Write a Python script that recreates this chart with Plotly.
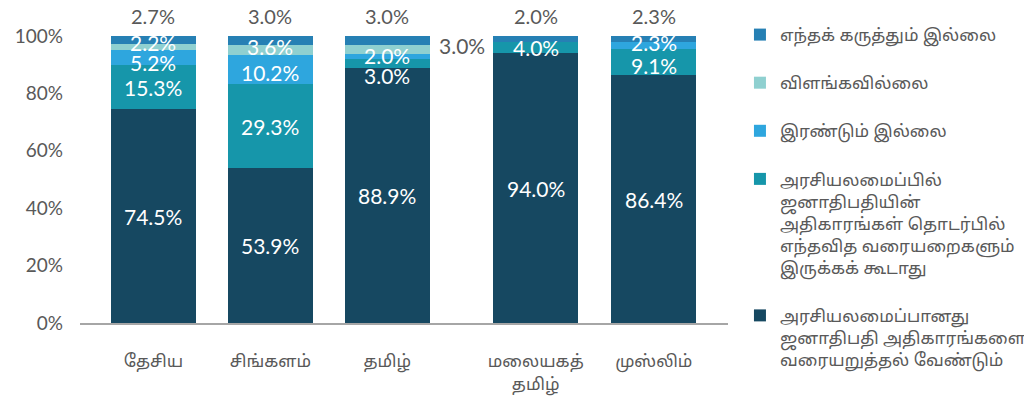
import plotly.graph_objects as go

categories = ["தேசிய", "சிங்களம்", "தமிழ்", "மலையகத்<br>தமிழ்", "முஸ்லிம்"]

series_names = [
    "அரசியலமைப்பானது<br>ஜனாதிபதி அதிகாரங்களை<br>வரையறுத்தல் வேண்டும்",
    "அரசியலமைப்பில்<br>ஜனாதிபதியின்<br>அதிகாரங்கள் தொடர்பில்<br>எந்தவித வரையறைகளும்<br>இருக்கக் கூடாது",
    "இரண்டும் இல்லை",
    "விளங்கவில்லை",
    "எந்தக் கருத்தும் இல்லை",
]

limit_powers = [74.5, 53.9, 88.9, 94.0, 86.4]
no_limits = [15.3, 29.3, 3.0, 4.0, 9.1]
neither = [5.2, 10.2, 2.0, 0.0, 2.3]
dont_understand = [2.2, 3.6, 3.0, 0.0, 0.0]
no_opinion = [2.7, 3.0, 3.0, 2.0, 2.3]

series_values = [limit_powers, no_limits, neither, dont_understand, no_opinion]
tick_vals = [0, 20, 40, 60, 80, 100]
tick_text = ["0%", "20%", "40%", "60%", "80%", "100%"]

# layout / style (not data)
x_pos = [0, 1, 2, 3.27, 4.28]
colors = ["#164861", "#1696aa", "#2ea6de", "#8fd0d0", "#2680b4"]
num_font = "Lato, 'Open Sans', sans-serif"
tamil_font = "'Noto Sans Tamil', 'Noto Sans', sans-serif"
gray = "#595959"

fig = go.Figure()
n_series = len(series_values)
for i, (name, vals) in enumerate(zip(series_names, series_values)):
    fig.add_trace(go.Bar(
        x=x_pos, y=vals, name=name, marker_color=colors[i],
        marker_line_width=0, width=0.726, legendgroup=str(i),
        legendrank=1000 + (n_series - i), hoverinfo="skip",
    ))

# label offsets (pixels) for readability, keyed (series, bar)
yshift = {(3, 0): 5, (2, 0): -5, (3, 1): 3, (2, 1): -3, (1, 2): -12,
          (1, 4): -4, (2, 4): 3, (3, 2): 4, (2, 2): 1}
xshift = {(3, 2): 75}

annotations = []
for j in range(len(categories)):
    base = 0.0
    for i in range(n_series):
        v = series_values[i][j]
        if v <= 0:
            continue
        if i == n_series - 1:
            annotations.append(dict(
                x=x_pos[j], y=100, xref="x", yref="y", text=f"{v:.1f}%",
                showarrow=False, yanchor="middle", yshift=20,
                font=dict(family=num_font, size=20, color=gray)))
        else:
            outside = (i, j) in xshift
            annotations.append(dict(
                x=x_pos[j], y=base + v / 2, xref="x", yref="y", text=f"{v:.1f}%",
                showarrow=False, yanchor="middle",
                yshift=yshift.get((i, j), 0), xshift=xshift.get((i, j), 0),
                font=dict(family=num_font, size=21,
                          color=gray if outside else "white")))
        base += v

fig.update_layout(
    width=1024, height=393,
    margin=dict(l=72, r=304, t=28, b=78),
    plot_bgcolor="white", paper_bgcolor="white",
    barmode="stack",
    annotations=annotations,
    showlegend=True,
    legend=dict(
        traceorder="grouped", tracegroupgap=23,
        xref="container", yref="container", x=0.7148, y=0.977,
        xanchor="left", yanchor="top", valign="top",
        font=dict(family=tamil_font, size=17, color=gray),
        itemwidth=30, maxheight=390,
    ),
    xaxis=dict(
        range=[-0.628, 4.915], tickvals=x_pos, ticktext=categories,
        showgrid=False, zeroline=False, showline=True, linecolor="#a6a6a6",
        linewidth=2, ticks="", ticklabelstandoff=22, automargin=False,
        tickfont=dict(family=tamil_font, size=17, color=gray),
    ),
    yaxis=dict(
        range=[0, 100], tickvals=tick_vals, ticktext=tick_text,
        showgrid=False, zeroline=False, showline=False, ticks="",
        ticklabelstandoff=16, automargin=False,
        tickfont=dict(family=num_font, size=19, color=gray),
    ),
)

fig.write_html("out.html")
